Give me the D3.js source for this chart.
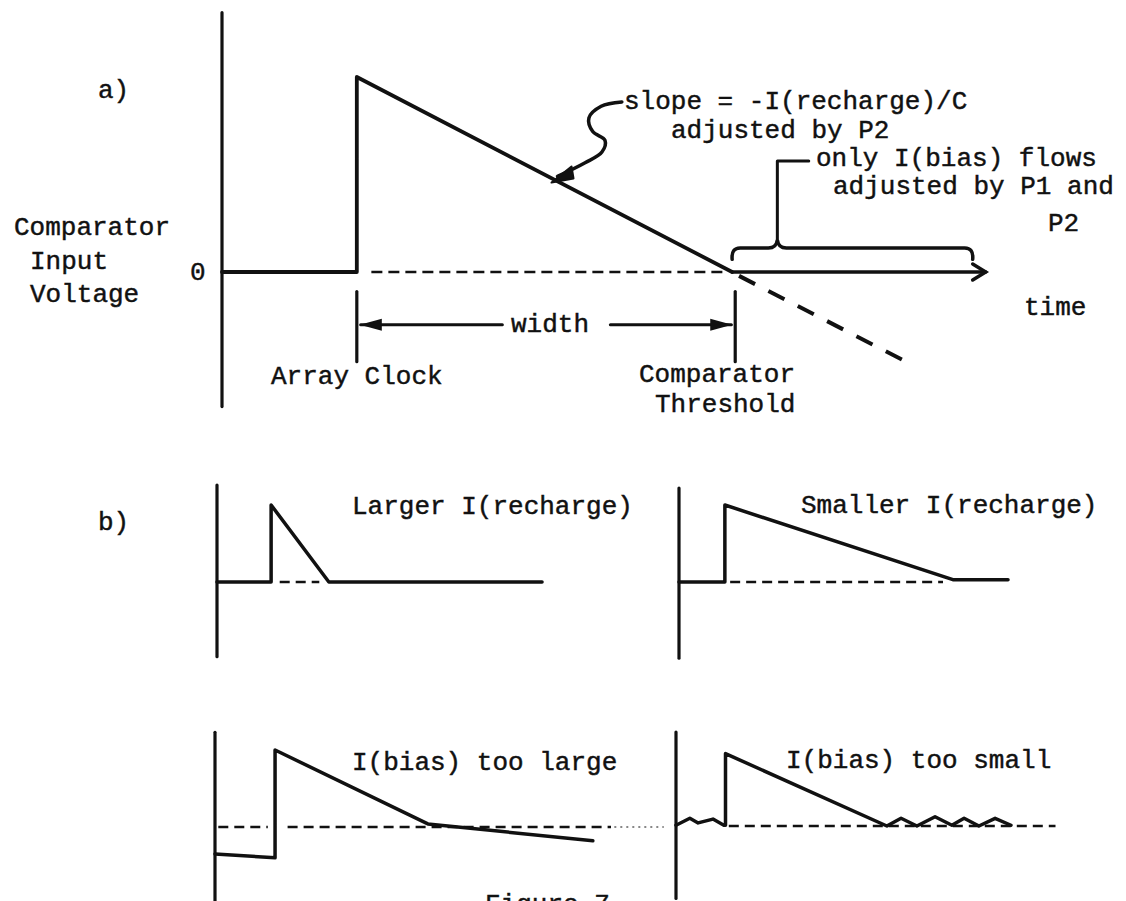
<!DOCTYPE html>
<html>
<head>
<meta charset="utf-8">
<script src="https://cdn.jsdelivr.net/npm/d3@7"></script>
<style>
	body { margin: 0; background: #fff; }
	text { font-family: "Liberation Mono", "Courier New", monospace; font-size: 26px; fill: #111; stroke: #111; stroke-width: 0.45px; }
</style>
</head>
<body>
<div id="chart-area"></div>
<script>

// --- data: time in arbitrary units, voltage relative to the pulse height ---

// a) main waveform
let aWave = [[0, 0], [1.76, 0], [1.76, 1], [6.66, 0]];
let aAfter = [[6.66, 0], [9.97, 0]];          // only I(bias) flows
let aZeroDash = [[1.95, 0], [6.55, 0]];
let aOvershoot = [[6.75, -0.02], [8.98, -0.47]];
let aAxis = [1.33, -0.69];
let aClock = 1.76;
let aThreshold = 6.7;
let aMarker = [-0.1, -0.46];
let aWidthY = -0.27;
let aBrace = [6.66, 9.8];
let aBraceTip = 7.25;
let aSquiggle = [[5.22, 0.872], [4.95, 0.85], [4.79, 0.79], [4.84, 0.72], [5.0, 0.675], [4.96, 0.615], [4.74, 0.56], [4.38, 0.49]];

// b) four cases
let largerWave = [[0, 0], [1.64, 0], [1.64, 1], [3.39, 0], [9.85, 0]];
let largerDash = [[1.9, 0], [3.1, 0]];
let largerAxis = [1.26, -0.97];

let smallerWave = [[0, 0], [1.39, 0], [1.39, 1], [8.3, 0.03], [9.97, 0.03]];
let smallerDash = [[1.55, 0], [8.0, 0]];
let smallerAxis = [1.22, -0.99];

let biasLargeWave = [[0, -0.35], [1.82, -0.4], [1.82, 1], [6.45, 0.04], [11.45, -0.18]];
let biasLargeDash = [[[0.1, 0], [1.6, 0]], [[2.2, 0], [12.0, 0]]];
let biasLargeDots = [[12.1, 0], [13.6, 0]];
let biasLargeAxis = [1.23, -1.05];

let biasSmallWave = [[0, 0.01], [0.42, 0.1], [0.67, 0.04], [1.12, 0.09], [1.45, 0.01], [1.5, 0.01], [1.5, 0.94],
	[6.39, 0], [6.82, 0.1], [7.3, 0], [7.85, 0.12], [8.36, 0.01], [8.73, 0.1], [9.18, 0], [9.67, 0.1], [10.15, 0.01]];
let biasSmallDash = [[1.6, 0], [11.5, 0]];
let biasSmallAxis = [1.22, -0.94];

// labels
let yLabel = ["Comparator", "Input", "Voltage"];
let zeroLabel = "0";
let timeLabel = "time";
let aNotes = ["slope = -I(recharge)/C", "adjusted by P2", "only I(bias) flows", "adjusted by P1 and", "P2"];
let markerLabels = ["Array Clock", "Comparator", "Threshold"];
let widthLabel = "width";
let bTitles = ["Larger I(recharge)", "Smaller I(recharge)", "I(bias) too large", "I(bias) too small"];
let captions = ["a)", "b)", "Figure 7"];


// --- layout ---
let svg = d3.select("#chart-area").append("svg")
	.attr("width", 1126)
	.attr("height", 901);

function frame(left, width, zero, unit) {
	return {
		x: d3.scaleLinear().domain([0, 10]).range([left, left + width]),
		y: d3.scaleLinear().domain([0, 1]).range([zero, zero - unit])
	};
}

let fa = frame(222, 766, 272, 195);
let fLarger = frame(217, 330, 582, 77);
let fSmaller = frame(679, 330, 582, 77);
let fBiasLarge = frame(215, 330, 827, 77);
let fBiasSmall = frame(676, 330, 826, 77);

function lineOf(f, curve) {
	return d3.line()
		.x(d => f.x(d[0]))
		.y(d => f.y(d[1]))
		.curve(curve || d3.curveLinear);
}

function solid(f, pts, w) {
	svg.append("path")
		.attr("d", lineOf(f)(pts))
		.attr("fill", "none")
		.attr("stroke", "#111")
		.attr("stroke-width", w || 3.5)
		.attr("stroke-linejoin", "round")
		.attr("stroke-linecap", "round");
}

function dashed(f, pts, w, dash) {
	svg.append("path")
		.attr("d", lineOf(f)(pts))
		.attr("fill", "none")
		.attr("stroke", "#111")
		.attr("stroke-width", w || 2.5)
		.attr("stroke-dasharray", dash || "10,6");
}

function vAxis(f, ext) {
	solid(f, [[0, ext[0]], [0, ext[1]]], 3.2);
}

function label(str, x, y) {
	svg.append("text").attr("x", x).attr("y", y).text(str);
}

// ---------- a) ----------
vAxis(fa, aAxis);
solid(fa, aWave, 3.8);
solid(fa, aAfter, 3.5);
dashed(fa, aZeroDash, 2.5, "11,6");
dashed(fa, aOvershoot, 4, "18,15");

// time arrowhead (open chevron)
let tip = aAfter[1];
svg.append("path")
	.attr("d", "M" + (fa.x(tip[0]) - 13) + "," + (fa.y(tip[1]) - 8) +
		"L" + fa.x(tip[0]) + "," + fa.y(tip[1]) +
		"L" + (fa.x(tip[0]) - 13) + "," + (fa.y(tip[1]) + 8))
	.attr("fill", "none").attr("stroke", "#111").attr("stroke-width", 3.5)
	.attr("stroke-linecap", "round");

// clock / threshold markers
solid(fa, [[aClock, aMarker[0]], [aClock, aMarker[1]]], 3.2);
solid(fa, [[aThreshold, aMarker[0]], [aThreshold, aMarker[1]]], 3.2);

// width arrows
let wy = fa.y(aWidthY);
solid(fa, [[aClock + 0.05, aWidthY], [3.66, aWidthY]], 3);
solid(fa, [[5.07, aWidthY], [aThreshold - 0.05, aWidthY]], 3);
function arrowHead(xTip, y, dir) {
	svg.append("path")
		.attr("d", "M" + xTip + "," + y + "L" + (xTip + dir * 22) + "," + (y - 6) + "L" + (xTip + dir * 22) + "," + (y + 6) + "Z")
		.attr("fill", "#111");
}
arrowHead(fa.x(aClock) + 3, wy, 1);
arrowHead(fa.x(aThreshold) - 3, wy, -1);

// brace over the bias-only part
let bx0 = fa.x(aBrace[0]), bx1 = fa.x(aBrace[1]), bm = fa.x(aBraceTip);
let by = fa.y(0.123), bTip = fa.y(0.164), bEnd = fa.y(0.065);
let brace = d3.path();
brace.moveTo(bx0, bEnd);
brace.quadraticCurveTo(bx0 - 1, by, bx0 + 8, by);
brace.lineTo(bm - 9, by);
brace.quadraticCurveTo(bm - 1, by, bm, bTip);
brace.quadraticCurveTo(bm + 1, by, bm + 9, by);
brace.lineTo(bx1 - 8, by);
brace.quadraticCurveTo(bx1 + 1, by, bx1, bEnd);
svg.append("path").attr("d", brace.toString())
	.attr("fill", "none").attr("stroke", "#111").attr("stroke-width", 3.5).attr("stroke-linecap", "round");
solid(fa, [[aBraceTip, 0.164], [aBraceTip, 0.569], [7.66, 0.569]], 3);

// squiggly pointer to the slope
solid(fa, aSquiggle, 3.5);
svg.select("path:last-of-type").attr("d", lineOf(fa, d3.curveCatmullRom)(aSquiggle));
let sq = aSquiggle[aSquiggle.length - 1];
let sx = fa.x(sq[0]), sy = fa.y(sq[1]);
svg.append("path")
	.attr("d", "M" + (sx - 6) + "," + (sy + 6) + "L" + (sx + 14) + "," + (sy - 10) + "L" + (sx + 16) + "," + (sy + 2) + "Z")
	.attr("fill", "#111").attr("stroke", "#111").attr("stroke-width", 2).attr("stroke-linejoin", "round");

// labels for a)
label(captions[0], 98, 98);
label(yLabel[0], 14, 235);
label(yLabel[1], 30, 269);
label(yLabel[2], 30, 302);
label(zeroLabel, 190, 280);
label(aNotes[0], 624, 109);
label(aNotes[1], 671, 138);
label(aNotes[2], 816, 166);
label(aNotes[3], 833, 194);
label(aNotes[4], 1048, 231);
label(timeLabel, 1024, 315);
label(widthLabel, 511, 332);
label(markerLabels[0], 271, 384);
label(markerLabels[1], 639, 382);
label(markerLabels[2], 655, 412);

// ---------- b) ----------
vAxis(fLarger, largerAxis);
solid(fLarger, largerWave);
dashed(fLarger, largerDash);

vAxis(fSmaller, smallerAxis);
solid(fSmaller, smallerWave);
dashed(fSmaller, smallerDash);

vAxis(fBiasLarge, biasLargeAxis);
biasLargeDash.forEach(seg => dashed(fBiasLarge, seg));
dashed(fBiasLarge, biasLargeDots, 1.2, "2,4");
solid(fBiasLarge, biasLargeWave);

vAxis(fBiasSmall, biasSmallAxis);
dashed(fBiasSmall, biasSmallDash);
solid(fBiasSmall, biasSmallWave);

label(captions[1], 98, 530);
label(bTitles[0], 352, 514);
label(bTitles[1], 801, 513);
label(bTitles[2], 352, 770);
label(bTitles[3], 786, 768);
label(captions[2], 485, 912);

</script>
</body>
</html>
